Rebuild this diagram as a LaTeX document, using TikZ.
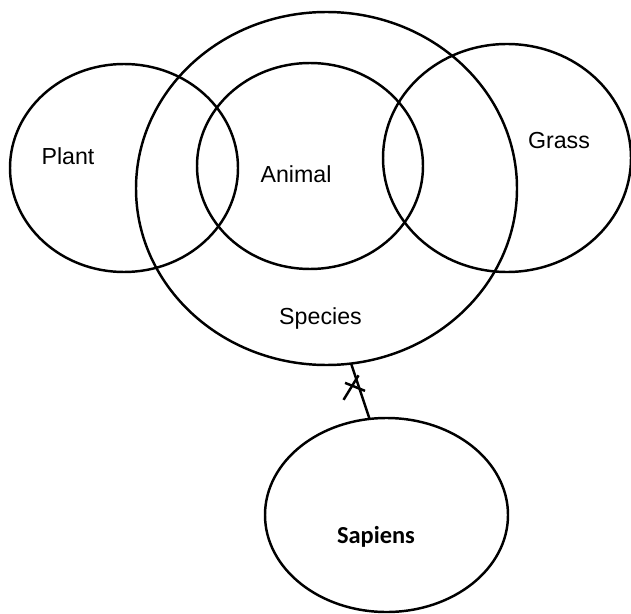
\documentclass[tikz,border=0pt]{standalone}
\usepackage{fontspec}
\setmainfont{Liberation Sans}
\newfontfamily\sapfont{Carlito}
\usetikzlibrary{shapes.geometric}
\begin{document}
\begin{tikzpicture}[line width=1.4pt,
    set/.style={draw,ellipse,inner sep=0pt,outer sep=0pt},
    lbl/.style={anchor=base,font=\fontsize{13.2}{15}\selectfont}]
    \useasboundingbox (0,0) rectangle (12.62,12.26);
    \node [set,minimum width=4.56cm,minimum height=4.16cm] (plant) at (2.48,8.90) {};
    \node [set,minimum width=7.62cm,minimum height=7.06cm] (species) at (6.53,8.49) {};
    \node [set,minimum width=4.52cm,minimum height=4.12cm] (animal) at (6.20,8.94) {};
    \node [set,minimum width=4.96cm,minimum height=4.56cm] (grass) at (10.14,9.10) {};
    \node [set,minimum width=4.86cm,minimum height=3.88cm] (sapiens) at (7.73,1.96) {};
    \node [lbl] (plantl) at (1.36,8.96) {Plant};
    \node [lbl] (animall) at (5.92,8.62) {Animal};
    \node [lbl] (grassl) at (11.18,9.30) {Grass};
    \node [lbl] (speciesl) at (6.41,5.78) {Species};
    \node [lbl,font=\sapfont\bfseries\fontsize{13.9}{16}\selectfont] (sapiensl) at (7.52,1.40) {Sapiens};
    \draw (species.-82) -- coordinate[pos=0.43] (cut) (sapiens.100);
    % the cut mark
    \draw ([shift={(-0.31,-0.25)}]cut) -- ([shift={(-0.01,0.24)}]cut);
    \draw ([shift={(-0.28,0.09)}]cut) -- ([shift={(0.12,-0.07)}]cut);
\end{tikzpicture}
\end{document}
